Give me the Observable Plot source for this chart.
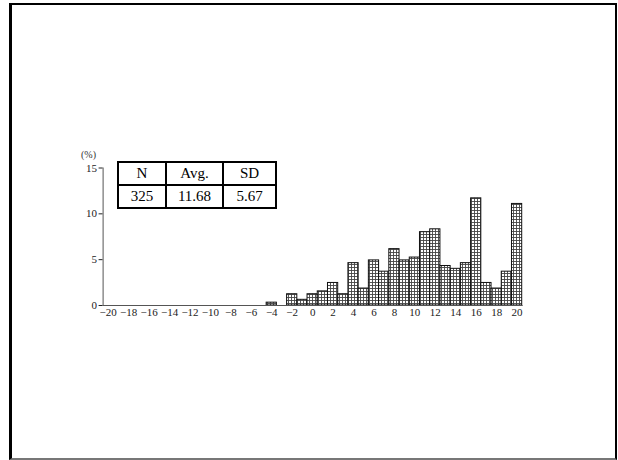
<!DOCTYPE html>
<html>
<head>
<meta charset="utf-8">
<script src="https://cdn.jsdelivr.net/npm/d3@7"></script>
<script src="https://cdn.jsdelivr.net/npm/@observablehq/plot@0.6"></script>
<style>
  html, body { margin: 0; padding: 0; background: #fff; overflow: hidden; }
  #page { position: relative; width: 618px; height: 460px; overflow: hidden; background: #fff; }
  #frame { position: absolute; box-sizing: border-box; left: 9px; top: 3px; width: 608px; height: 457px;
           border-top: 2px solid #000; border-left: 3px solid #000; border-right: 2px solid #000;
           border-bottom: 2px solid #777; }
  #chart { position: absolute; left: 0; top: 0; }
  #unit { position: absolute; left: 81px; top: 149px; font: 10px "Liberation Serif", serif; color: #333; }
  #stats { position: absolute; left: 117px; top: 161px; border-collapse: collapse; table-layout: fixed;
           width: 152px; font: 15px "Liberation Serif", "Times New Roman", serif; background: #fff; }
  #stats td { border: 2px solid #000; text-align: center; padding: 0; height: 21px; line-height: 21px; }
</style>
</head>
<body>
<div id="page">
  <div id="frame"></div>
  <div id="chart"></div>
  <div id="unit">(%)</div>
  <table id="stats"></table>
</div>
<script>
// Histogram bins (difference value) and share of respondents (%)
const bins = [-4, -3, -2, -1, 0, 1, 2, 3, 4, 5, 6, 7, 8, 9, 10, 11, 12, 13, 14, 15, 16, 17, 18, 19, 20];
const percents = [0.31, 0, 1.23, 0.62, 1.23, 1.54, 2.46, 1.23, 4.62, 1.85, 4.92, 3.69, 6.15, 4.92, 5.23, 8.0, 8.31, 4.31, 4.0, 4.62, 11.69, 2.46, 1.85, 3.69, 11.08];
const xTicks = [-20, -18, -16, -14, -12, -10, -8, -6, -4, -2, 0, 2, 4, 6, 8, 10, 12, 14, 16, 18, 20];
const yTicks = [0, 5, 10, 15];
const statHeaders = ["N", "Avg.", "SD"];
const statValues = ["325", "11.68", "5.67"];

const data = bins.map((b, i) => ({bin: b, pct: percents[i]}));
const fmt = d => String(d).replace("-", "−");

const plot = Plot.plot({
  width: 618,
  height: 460,
  marginLeft: 102.6,
  marginRight: 96.3,
  marginTop: 167.5,
  marginBottom: 155,
  style: {fontFamily: "'Liberation Serif', serif", fontSize: "11px", color: "#222", background: "transparent"},
  x: {domain: [-20.5, 20.5], label: null},
  y: {domain: [0, 15], label: null},
  marks: [
    Plot.axisX({ticks: xTicks, tickSize: 0, tickPadding: 3, tickFormat: fmt, label: null, fontSize: 11}),
    Plot.axisY({ticks: yTicks, tickSize: 4, tickPadding: 2, label: null, fontSize: 11}),
    Plot.rectY(data.filter(d => d.pct > 0), {
      x1: d => d.bin - 0.5,
      x2: d => d.bin + 0.5,
      y: "pct",
      fill: "url(#gridfill)",
      stroke: "#111",
      strokeWidth: 1
    }),
    Plot.frame({anchor: "left", stroke: "#555"}),
    Plot.frame({anchor: "bottom", stroke: "#555"})
  ]
});

// cross-hatch pattern for the bars
const svg = d3.select(plot);
const defs = svg.insert("defs", ":first-child");
const pat = defs.append("pattern")
  .attr("id", "gridfill")
  .attr("patternUnits", "userSpaceOnUse")
  .attr("width", 3)
  .attr("height", 3);
pat.append("rect").attr("width", 3).attr("height", 3).attr("fill", "#fff");
pat.append("path").attr("d", "M0,0.5H3M0.5,0V3").attr("stroke", "#444").attr("stroke-width", 0.9);

document.getElementById("chart").appendChild(plot);

const table = d3.select("#stats");
const widths = [46, 55, 51];
table.append("tr").selectAll("td").data(statHeaders).join("td")
  .style("width", (d, i) => widths[i] + "px").text(d => d);
table.append("tr").selectAll("td").data(statValues).join("td").text(d => d);
</script>
</body>
</html>
